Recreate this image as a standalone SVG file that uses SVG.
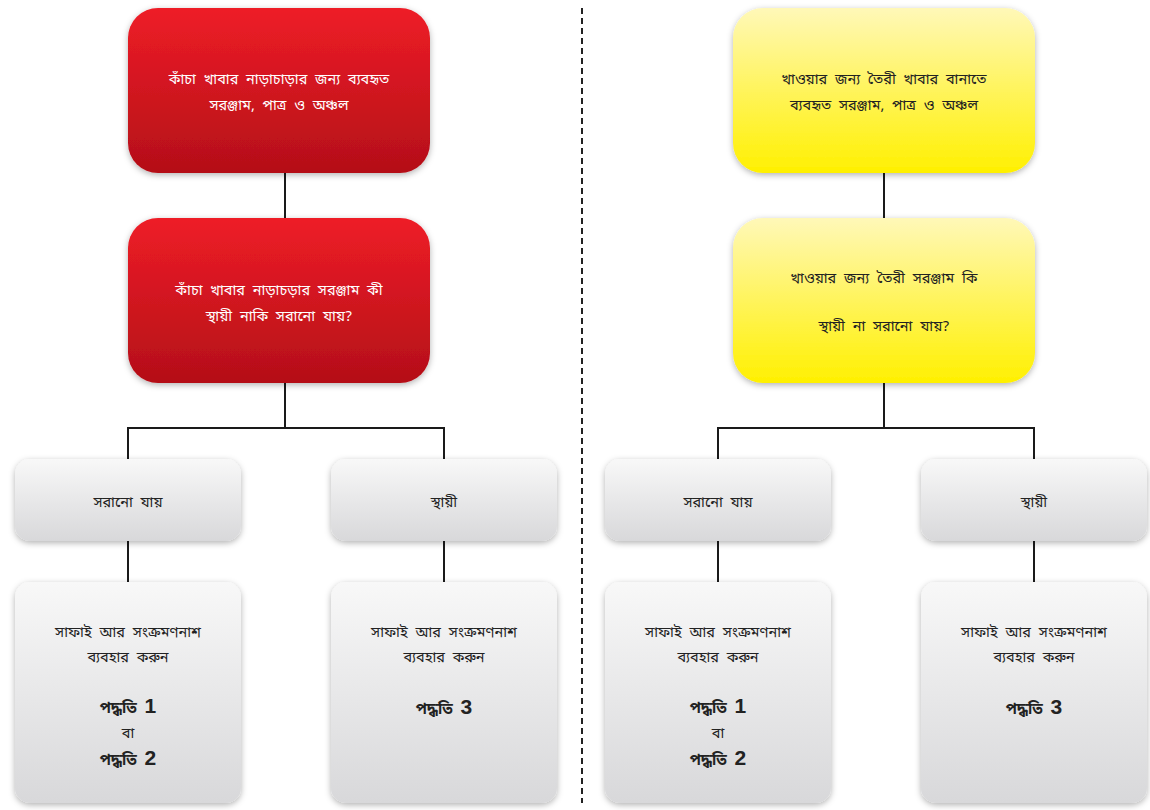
<svg xmlns="http://www.w3.org/2000/svg" width="1150" height="810" viewBox="0 0 1150 810">
<defs>
<linearGradient id="gRed" x1="0" y1="0" x2="0" y2="1"><stop offset="0" stop-color="#ee1d27"/><stop offset="1" stop-color="#b40f18"/></linearGradient>
<linearGradient id="gYel" x1="0" y1="0" x2="0" y2="1"><stop offset="0" stop-color="#fff8b8"/><stop offset="1" stop-color="#fff000"/></linearGradient>
<linearGradient id="gGray" x1="0" y1="0" x2="0" y2="1"><stop offset="0" stop-color="#f8f8f8"/><stop offset="1" stop-color="#d8d8da"/></linearGradient>
<filter id="sh" x="-10%" y="-10%" width="120%" height="125%"><feDropShadow dx="0" dy="2" stdDeviation="3" flood-color="#000" flood-opacity="0.3"/></filter>
</defs>
<style>
.t{font-family:"Noto Sans Bengali","Noto Sans","Lohit Bengali","Liberation Sans",sans-serif;font-size:14.5px;word-spacing:4px;text-anchor:middle;fill:#222}
.w{fill:#fff}
.b{font-weight:bold;font-size:15px}
.n{font-family:"Liberation Sans",Arial,sans-serif;font-weight:bold;font-size:21px}
.ln{stroke:#1a1a1a;stroke-width:2;fill:none}
</style>
<rect width="1150" height="810" fill="#fff"/>
<g id="connectors">
<line class="ln" x1="285" y1="173" x2="285" y2="218"/>
<polyline class="ln" points="285,383 285,428"/>
<polyline class="ln" points="128,459 128,428 444,428 444,459"/>
<line class="ln" x1="128" y1="541" x2="128" y2="582"/>
<line class="ln" x1="444" y1="541" x2="444" y2="582"/>
<line class="ln" x1="884" y1="173" x2="884" y2="218"/>
<polyline class="ln" points="884,383 884,428"/>
<polyline class="ln" points="718,459 718,428 1034,428 1034,459"/>
<line class="ln" x1="718" y1="541" x2="718" y2="582"/>
<line class="ln" x1="1034" y1="541" x2="1034" y2="582"/>
<line x1="582" y1="8" x2="582" y2="803" stroke="#222" stroke-width="2" stroke-dasharray="6,4"/>
</g>
<g id="l1">
<rect x="128" y="8" width="302" height="165" rx="30" fill="url(#gRed)" filter="url(#sh)"/>
<text class="t w" x="279" y="84">কাঁচা খাবার নাড়াচাড়ার জন্য ব্যবহৃত</text>
<text class="t w" x="279" y="110">সরঞ্জাম, পাত্র ও অঞ্চল</text>
</g>
<g id="l2">
<rect x="128" y="218" width="302" height="165" rx="30" fill="url(#gRed)" filter="url(#sh)"/>
<text class="t w" x="279" y="295">কাঁচা খাবার নাড়াচড়ার সরঞ্জাম কী</text>
<text class="t w" x="279" y="321">স্থায়ী নাকি সরানো যায়?</text>
</g>
<g id="l3a">
<rect x="15" y="459" width="226" height="82" rx="15" fill="url(#gGray)" filter="url(#sh)"/>
<text class="t" x="128" y="507">সরানো যায়</text>
</g>
<g id="l3b">
<rect x="331" y="459" width="226" height="82" rx="15" fill="url(#gGray)" filter="url(#sh)"/>
<text class="t" x="444" y="507">স্থায়ী</text>
</g>
<g id="l4a">
<rect x="15" y="582" width="226" height="221" rx="15" fill="url(#gGray)" filter="url(#sh)"/>
<text class="t" x="128" y="637">সাফাই আর সংক্রমণনাশ</text>
<text class="t" x="128" y="662">ব্যবহার করুন</text>
<text class="t" x="128" y="713"><tspan class="b">পদ্ধতি</tspan> <tspan class="n">1</tspan></text>
<text class="t" x="128" y="738">বা</text>
<text class="t" x="128" y="765"><tspan class="b">পদ্ধতি</tspan> <tspan class="n">2</tspan></text>
</g>
<g id="l4b">
<rect x="331" y="582" width="226" height="221" rx="15" fill="url(#gGray)" filter="url(#sh)"/>
<text class="t" x="444" y="637">সাফাই আর সংক্রমণনাশ</text>
<text class="t" x="444" y="662">ব্যবহার করুন</text>
<text class="t" x="444" y="714"><tspan class="b">পদ্ধতি</tspan> <tspan class="n">3</tspan></text>
</g>
<g id="r1">
<rect x="733" y="8" width="302" height="165" rx="30" fill="url(#gYel)" filter="url(#sh)"/>
<text class="t" x="884" y="84">খাওয়ার জন্য তৈরী খাবার বানাতে</text>
<text class="t" x="884" y="110">ব্যবহৃত সরঞ্জাম, পাত্র ও অঞ্চল</text>
</g>
<g id="r2">
<rect x="733" y="218" width="302" height="165" rx="30" fill="url(#gYel)" filter="url(#sh)"/>
<text class="t" x="884" y="283">খাওয়ার জন্য তৈরী সরঞ্জাম কি</text>
<text class="t" x="884" y="331">স্থায়ী না সরানো যায়?</text>
</g>
<g id="r3a">
<rect x="605" y="459" width="226" height="82" rx="15" fill="url(#gGray)" filter="url(#sh)"/>
<text class="t" x="718" y="507">সরানো যায়</text>
</g>
<g id="r3b">
<rect x="921" y="459" width="226" height="82" rx="15" fill="url(#gGray)" filter="url(#sh)"/>
<text class="t" x="1034" y="507">স্থায়ী</text>
</g>
<g id="r4a">
<rect x="605" y="582" width="226" height="221" rx="15" fill="url(#gGray)" filter="url(#sh)"/>
<text class="t" x="718" y="637">সাফাই আর সংক্রমণনাশ</text>
<text class="t" x="718" y="662">ব্যবহার করুন</text>
<text class="t" x="718" y="713"><tspan class="b">পদ্ধতি</tspan> <tspan class="n">1</tspan></text>
<text class="t" x="718" y="738">বা</text>
<text class="t" x="718" y="765"><tspan class="b">পদ্ধতি</tspan> <tspan class="n">2</tspan></text>
</g>
<g id="r4b">
<rect x="921" y="582" width="226" height="221" rx="15" fill="url(#gGray)" filter="url(#sh)"/>
<text class="t" x="1034" y="637">সাফাই আর সংক্রমণনাশ</text>
<text class="t" x="1034" y="662">ব্যবহার করুন</text>
<text class="t" x="1034" y="714"><tspan class="b">পদ্ধতি</tspan> <tspan class="n">3</tspan></text>
</g>
</svg>
